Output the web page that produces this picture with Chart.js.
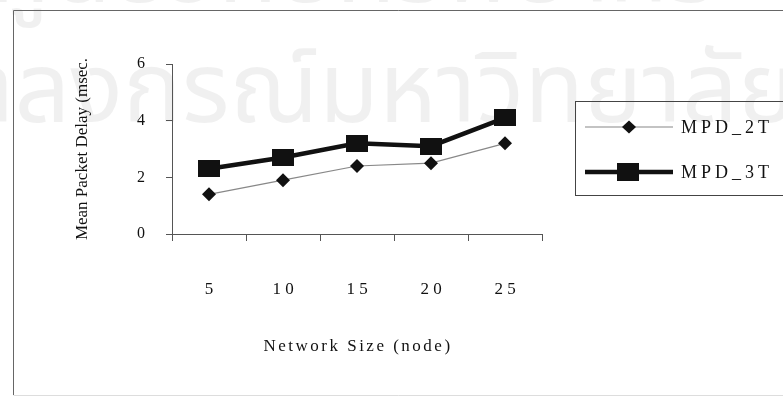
<!DOCTYPE html>
<html>
<head>
<meta charset="utf-8">
<script src="https://cdn.jsdelivr.net/npm/chart.js@4.4.1/dist/chart.umd.min.js"></script>
<style>
  body { margin: 0; background: #fff; }
  #wrap { position: relative; width: 783px; height: 398px; overflow: hidden; }
  .wm { position: absolute; white-space: nowrap; color: rgba(0,0,0,0.06);
        font-family: "Noto Sans Thai", "Loma", "Garuda", sans-serif; font-size: 98px; }
  canvas { position: absolute; left: 0; top: 0; }
</style>
</head>
<body>
<div id="wrap">
  <div class="wm" style="top:-102px;left:-10px;">ศูนย์วิทยทรัพยากร</div>
  <div class="wm" style="top:18px;left:-143px;">จุฬาลงกรณ์มหาวิทยาลัย</div>
  <canvas id="grafico" width="783" height="398"></canvas>
</div>
<script>
// dados
const networkSizes = ['5', '10', '15', '20', '25'];
const mpd2T = [1.4, 1.9, 2.4, 2.5, 3.2];
const mpd3T = [2.3, 2.7, 3.2, 3.1, 4.1];
const yTicks = [0, 2, 4, 6];
const serieNomes = ['MPD_2T', 'MPD_3T'];

const SERIF = '"Liberation Serif", "Times New Roman", serif';

// marcador retangular (o scan estica na horizontal)
function fazQuadrado(w, h) {
  const c = document.createElement('canvas');
  c.width = w; c.height = h;
  const g = c.getContext('2d');
  g.fillStyle = '#111';
  g.fillRect(0, 0, w, h);
  return c;
}
const quadrado = fazQuadrado(22, 17);

// moldura, titulo do eixo x e legenda desenhados a mao
const extras = {
  id: 'extras',
  afterDraw(chart) {
    const ctx = chart.ctx;
    ctx.save();
    // moldura
    ctx.lineWidth = 1;
    ctx.strokeStyle = '#666';
    ctx.beginPath();
    ctx.moveTo(13.5, 395); ctx.lineTo(13.5, 10.5); ctx.lineTo(783, 10.5);
    ctx.stroke();
    ctx.strokeStyle = '#ddd';
    ctx.beginPath(); ctx.moveTo(13.5, 395.5); ctx.lineTo(783, 395.5); ctx.stroke();

    // titulo eixo x
    ctx.fillStyle = '#111';
    ctx.font = '17px ' + SERIF;
    ctx.textAlign = 'center';
    ctx.textBaseline = 'middle';
    ctx.letterSpacing = '2.5px';
    const xs = chart.scales.x;
    ctx.fillText('Network Size (node)', (xs.left + xs.right) / 2 + 1, 347);

    // legenda
    ctx.letterSpacing = '0px';
    ctx.strokeStyle = '#444';
    ctx.strokeRect(575.5, 101.5, 230, 94);
    ctx.strokeStyle = '#888';
    ctx.lineWidth = 1.2;
    ctx.beginPath(); ctx.moveTo(585, 127); ctx.lineTo(673, 127); ctx.stroke();
    ctx.fillStyle = '#111';
    ctx.beginPath();
    ctx.moveTo(629, 120.5); ctx.lineTo(636, 127); ctx.lineTo(629, 133.5); ctx.lineTo(622, 127);
    ctx.closePath(); ctx.fill();
    ctx.strokeStyle = '#111';
    ctx.lineWidth = 4.5;
    ctx.beginPath(); ctx.moveTo(585, 172); ctx.lineTo(673, 172); ctx.stroke();
    ctx.fillRect(617, 163, 22, 18);
    ctx.font = '18px ' + SERIF;
    ctx.textAlign = 'left';
    ctx.letterSpacing = '4px';
    ctx.fillText(serieNomes[0], 681, 128);
    ctx.fillText(serieNomes[1], 681, 173);
    ctx.restore();
  }
};

new Chart(document.getElementById('grafico'), {
  type: 'line',
  data: {
    labels: networkSizes,
    datasets: [
      {
        label: serieNomes[0],
        data: mpd2T,
        borderColor: '#888',
        borderWidth: 1.2,
        pointStyle: 'rectRot',
        pointRadius: 7,
        pointBackgroundColor: '#111',
        pointBorderColor: '#111',
        pointBorderWidth: 0,
        tension: 0
      },
      {
        label: serieNomes[1],
        data: mpd3T,
        borderColor: '#111',
        borderWidth: 4.5,
        pointStyle: quadrado,
        pointRadius: 11,
        tension: 0
      }
    ]
  },
  options: {
    responsive: false,
    animation: false,
    layout: { padding: { left: 0, top: 64, right: 241, bottom: 0 } },
    plugins: { legend: { display: false }, tooltip: { enabled: false } },
    scales: {
      x: {
        offset: true,
        grid: { offset: true, drawOnChartArea: false, color: '#555', tickLength: 7 },
        border: { color: '#555' },
        ticks: {
          color: '#111',
          padding: 38,
          font: { family: SERIF, size: 17 },
          callback: function (v) { return networkSizes[v].split('').join(' '); }
        },
        afterFit: s => { s.height = 164; }
      },
      y: {
        min: 0,
        max: 6,
        afterBuildTicks: s => { s.ticks = yTicks.map(v => ({ value: v })); },
        grid: { drawOnChartArea: false, color: '#555', tickLength: 6 },
        border: { color: '#555' },
        ticks: { color: '#111', padding: 21, font: { family: SERIF, size: 16 } },
        title: {
          display: true,
          text: 'Mean Packet Delay (msec.',
          color: '#111',
          font: { family: SERIF, size: 17 },
          padding: { top: 72, bottom: 0 }
        },
        afterFit: s => { s.width = 172; }
      }
    }
  },
  plugins: [extras]
});
</script>
</body>
</html>
